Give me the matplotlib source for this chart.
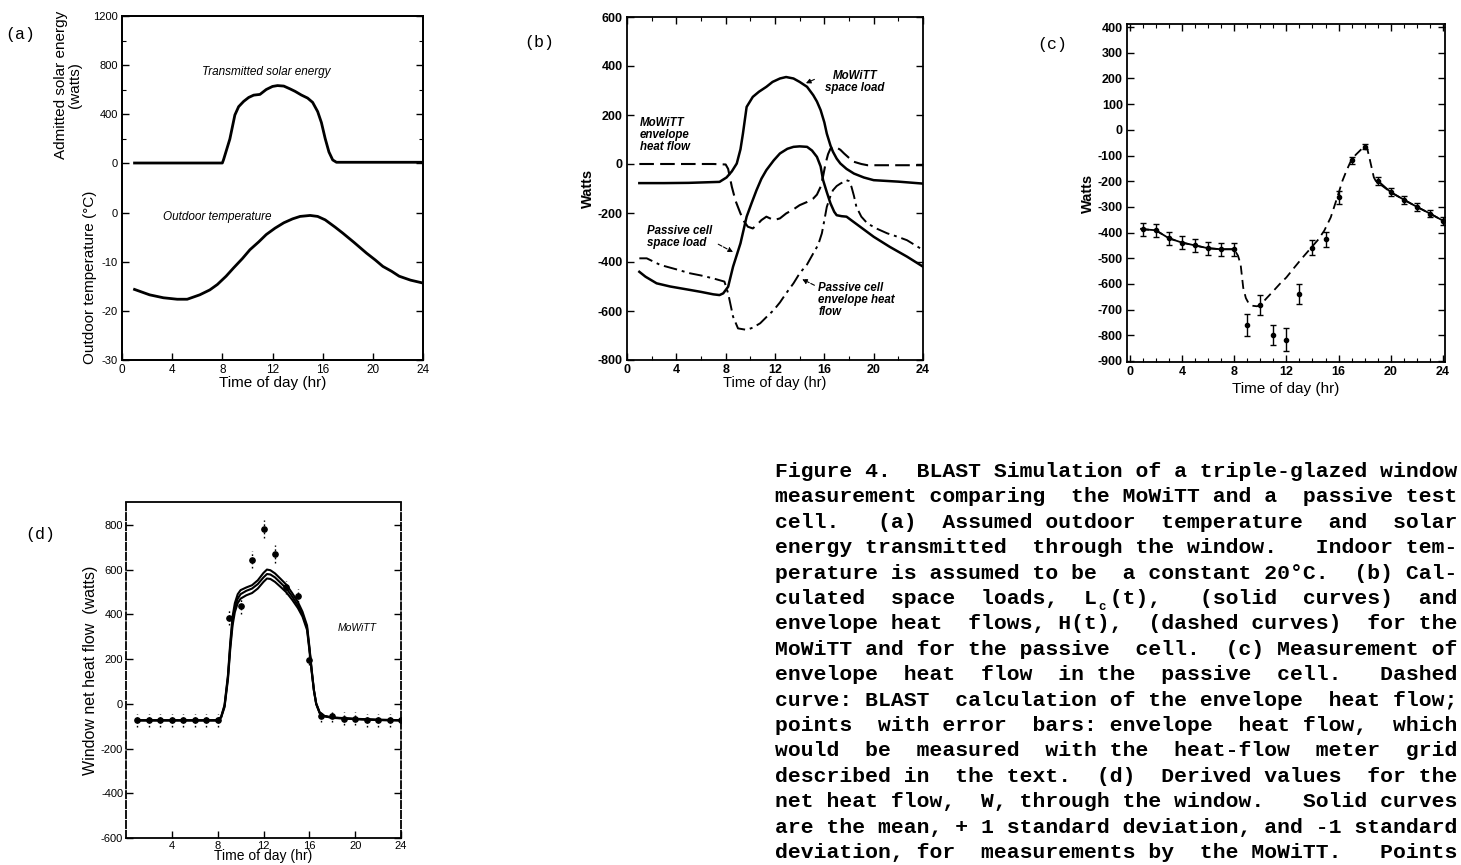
import re
import matplotlib
matplotlib.use("Agg")
import matplotlib.pyplot as plt
from matplotlib.ticker import FixedLocator, MultipleLocator

plt.rcParams['font.family'] = ['Liberation Sans', 'DejaVu Sans']
plt.rcParams['axes.unicode_minus'] = False

# ---------------- data ----------------
# (a) transmitted solar energy (W) and outdoor temperature (C)
solar_hr = [1, 8, 8.1, 8.6, 9.0, 9.3, 9.7, 10.1, 10.5, 11.0, 11.5, 12.0, 12.4, 12.9, 13.4, 13.8,
            14.3, 14.8, 15.2, 15.6, 15.9, 16.2, 16.5, 16.8, 17.1, 24]
solar_w = [0, 0, 28, 196, 392, 460, 503, 535, 554, 560, 600, 625, 632, 628, 605, 585,
           555, 530, 495, 420, 330, 200, 90, 25, 6, 6]
temp_hr = [1, 2.2, 3.3, 4.4, 5.2, 6.2, 7.0, 7.6, 8.3, 8.9, 9.6, 10.2, 10.9, 11.5, 12.2, 12.9,
           13.6, 14.2, 15.0, 15.6, 16.2, 17.0, 17.6, 18.5, 19.5, 20.2, 20.8, 21.5, 22.1, 23.0, 24]
temp_c = [-15.6, -16.7, -17.3, -17.6, -17.6, -16.7, -15.7, -14.6, -12.9, -11.2, -9.3, -7.5,
          -5.9, -4.4, -3.1, -2.0, -1.2, -0.7, -0.5, -0.7, -1.4, -2.9, -4.1, -6.0, -8.2, -9.6,
          -10.9, -11.9, -12.9, -13.7, -14.3]

# (b) space loads and envelope heat flows (W)
mow_space_hr = [1, 3, 5, 7.5, 8.07, 8.5, 8.9, 9.2, 9.4, 9.7, 10.2, 10.7, 11.3, 11.8, 12.4, 12.9,
                13.5, 14.0, 14.6, 15.1, 15.4, 15.7, 16.0, 16.2, 16.5, 16.7, 17.0, 17.3, 17.8,
                18.4, 19.2, 20.0, 22.0, 24]
mow_space_w = [-78, -78, -77, -73, -55, -30, 2, 60, 124, 233, 274, 295, 315, 335, 349, 355,
               349, 335, 315, 281, 255, 220, 170, 124, 75, 50, 22, 2, -20, -39, -55, -66, -72, -80]
mow_env_hr = [1, 5, 7, 8.0, 8.2, 8.5, 8.8, 9.2, 9.5, 9.8, 10.2, 10.6, 10.9, 11.3, 11.9, 12.4,
              12.9, 13.5, 14.0, 14.6, 15.1, 15.4, 15.7, 15.9, 16.1, 16.3, 16.5, 16.9, 17.3,
              17.6, 18.0, 18.4, 19.0, 19.5, 21, 24]
mow_env_w = [0, 0, 0, -2, -20, -93, -150, -202, -235, -256, -263, -245, -229, -215, -229, -222,
             -202, -185, -168, -155, -141, -125, -93, -50, 2, 40, 63, 70, 58, 43, 25, 9, 0, -5, -5, -5]
pas_space_hr = [1, 1.5, 2.4, 3.5, 5.1, 6.0, 7.0, 7.5, 7.8, 8.2, 8.6, 9.2, 9.7, 10.1, 10.5, 10.9,
                11.3, 11.9, 12.4, 13.0, 13.5, 14.0, 14.6, 15.0, 15.4, 15.7, 15.9, 16.2, 16.5,
                16.8, 17.0, 17.4, 17.8, 18.2, 18.9, 20.0, 21.3, 22.7, 24]
pas_space_w = [-440, -460, -487, -500, -514, -522, -532, -535, -528, -501, -419, -324, -215,
               -160, -107, -60, -25, 15, 43, 62, 70, 72, 70, 55, 29, -10, -66, -115, -161, -195,
               -209, -213, -215, -230, -256, -297, -338, -378, -419]
pas_env_hr = [1, 1.6, 2.7, 4.0, 5.1, 6.0, 7.0, 7.9, 8.2, 8.6, 9.0, 9.7, 10.2, 10.8, 11.3, 11.9,
              12.4, 12.9, 13.5, 14.0, 14.6, 15.1, 15.5, 15.8, 16.0, 16.2, 16.5, 16.7, 17.0, 17.3,
              17.6, 17.8, 18.0, 18.2, 18.4, 18.6, 19.0, 19.5, 20.3, 21.1, 22.0, 22.7, 24]
pas_env_w = [-385, -385, -412, -430, -446, -455, -467, -480, -528, -623, -671, -677, -668, -650,
             -625, -596, -565, -528, -487, -446, -410, -365, -330, -283, -230, -175, -130, -107,
             -90, -80, -72, -66, -70, -93, -130, -175, -215, -243, -265, -283, -298, -311, -351]

# (c) passive cell envelope heat flow: BLAST curve and hourly measurements
c_curve_hr = [0.8, 1, 2, 3, 4, 5, 6, 7, 8, 8.3, 8.5, 8.7, 8.9, 9.1, 9.4, 9.75, 10.0, 10.5, 11,
              11.5, 12, 12.6, 13.2, 13.9, 14.4, 14.9, 15.4, 15.9, 16.3, 16.6, 16.9, 17.3, 17.7,
              18.0, 18.2, 18.35, 18.5, 18.7, 18.9, 19, 20, 21, 22, 23, 24]
c_curve_w = [-385, -387, -391, -422, -439, -450, -461, -465, -465, -490, -524, -615, -655, -674,
             -685, -687, -683, -655, -628, -600, -575, -537, -500, -459, -430, -393, -341, -263,
             -198, -160, -126, -98, -78, -61, -75, -106, -140, -185, -204, -205, -243, -272,
             -300, -326, -354]
c_hr = [1, 2, 3, 4, 5, 6, 7, 8, 9, 10, 11, 12, 13, 14, 15, 16, 17, 18, 19, 20, 21, 22, 23, 24]
c_w = [-387, -391, -422, -439, -450, -461, -465, -465, -759, -683, -798, -818, -639, -459, -426,
       -263, -119, -65, -198, -243, -272, -300, -326, -354]
c_err = [25, 25, 25, 25, 25, 25, 25, 25, 42, 38, 40, 45, 40, 30, 30, 25, 15, 10, 15, 15, 15, 15, 15, 15]

# (d) window net heat flow: mean and +/-1 sd curves, points
d_curve_hr = [1, 8, 8.3, 8.6, 8.9, 9.1, 9.3, 9.5, 9.75, 10, 10.5, 11, 11.5, 12, 12.3, 12.6, 13,
              13.5, 14, 14.5, 15, 15.4, 15.8, 16.0, 16.2, 16.4, 16.6, 16.9, 17.3, 18, 19, 20, 21,
              22, 23, 24]
d_mean = [-74, -74, -60, -10, 120, 260, 370, 430, 470, 490, 505, 515, 535, 565, 580, 578, 565,
          540, 515, 480, 440, 400, 340, 250, 150, 60, 0, -40, -55, -62, -65, -68, -70, -72, -73, -74]
d_upper = [-74, -74, -58, -5, 130, 275, 390, 450, 490, 508, 520, 530, 552, 585, 600, 597, 583,
           558, 532, 495, 455, 412, 350, 258, 155, 62, 2, -38, -54, -61, -64, -67, -69, -71, -72, -74]
d_lower = [-74, -74, -62, -15, 110, 245, 350, 410, 450, 470, 485, 495, 515, 545, 560, 558, 545,
           522, 498, 465, 428, 390, 330, 242, 145, 58, -2, -42, -56, -63, -66, -69, -71, -73, -74, -74]
d_hr = [1, 2, 3, 4, 5, 6, 7, 8, 9, 10, 11, 12, 13, 14, 15, 16, 17, 18, 19, 20, 21, 22, 23, 24]
d_w = [-74, -74, -74, -74, -74, -74, -74, -74, 385, 437, 644, 782, 671, 520, 484, 197, -56, -56,
       -67, -67, -74, -74, -74, -74]
d_err = [30, 30, 30, 30, 30, 30, 30, 30, 35, 35, 37, 40, 40, 30, 30, 25, 25, 25, 30, 30, 30, 30, 30, 30]

hour_ticks = [0, 4, 8, 12, 16, 20, 24]

caption_lines = [
    "Figure 4.  BLAST Simulation of a triple-glazed window",
    "measurement comparing the MoWiTT and a passive test",
    "cell.  (a) Assumed outdoor temperature and solar",
    "energy transmitted through the window.  Indoor tem-",
    "perature is assumed to be a constant 20\u00b0C.  (b) Cal-",
    "culated space loads, L\u00a7(t), (solid curves) and",
    "envelope heat flows, H(t), (dashed curves) for the",
    "MoWiTT and for the passive cell.  (c) Measurement of",
    "envelope heat flow in the passive cell.  Dashed",
    "curve: BLAST calculation of the envelope heat flow;",
    "points with error bars: envelope heat flow, which",
    "would be measured with the heat-flow meter grid",
    "described in the text.  (d) Derived values for the",
    "net heat flow, W, through the window.  Solid curves",
    "are the mean, + 1 standard deviation, and -1 standard",
    "deviation, for measurements by the MoWiTT.  Points",
]

# ---------------- figure ----------------
W, H = 1461, 865
fig = plt.figure(figsize=(W / 100, H / 100), dpi=100)
fig.patch.set_facecolor('white')


def add_ax(l, t, r, b):
    return fig.add_axes([l / W, 1 - b / H, (r - l) / W, (b - t) / H])


def style(ax, lw=1.3):
    for s in ax.spines.values():
        s.set_linewidth(lw)
        s.set_color('black')
    ax.tick_params(which='both', direction='in', top=True, right=True, colors='black',
                   labelsize=8, pad=3)
    ax.tick_params(which='major', length=5, width=1.0)
    ax.tick_params(which='minor', length=3, width=0.8)


def bold_ticks(ax):
    for lab in ax.get_xticklabels() + ax.get_yticklabels():
        lab.set_fontweight('bold')


# ----- (a) -----
ax_t = add_ax(122, 16, 423, 360)
ax_t.set_xlim(0, 24)
ax_t.set_ylim(-30, 40.2)
ax_s = ax_t.twinx()
ax_s.set_ylim(-1608, 1200)
style(ax_t)
style(ax_s)
ax_t.xaxis.set_major_locator(FixedLocator(hour_ticks))
ax_t.yaxis.set_major_locator(FixedLocator([0, -10, -20, -30]))
ax_s.yaxis.set_major_locator(FixedLocator([0, 400, 800, 1200]))
ax_s.yaxis.set_minor_locator(FixedLocator([200, 600, 1000]))
ax_t.tick_params(axis='y', left=True, right=True, labelleft=True, labelright=False)
ax_s.tick_params(axis='y', which='both', left=True, right=True, labelleft=True, labelright=False)
ax_t.tick_params(axis='x', top=False, labelsize=8.5)
ax_t.plot(temp_hr, temp_c, color='black', lw=2.0)
ax_s.plot(solar_hr, solar_w, color='black', lw=2.0)
ax_s.text(11.5, 743, 'Transmitted solar energy', style='italic', fontsize=8.5, ha='center', va='center')
ax_t.text(7.6, -0.8, 'Outdoor temperature', style='italic', fontsize=8.5, ha='center', va='center')
ax_t.set_xlabel('Time of day (hr)', fontsize=11, labelpad=0)
ax_t.text(-0.18, 0.80, 'Admitted solar energy\n(watts)', transform=ax_t.transAxes, rotation=90,
          ha='center', va='center', fontsize=11, linespacing=1.0)
ax_t.text(-0.105, 0.24, 'Outdoor temperature (\u00b0C)', transform=ax_t.transAxes, rotation=90,
          ha='center', va='center', fontsize=11)

# ----- (b) -----
axb = add_ax(627, 17, 923, 360)
style(axb)
axb.set_xlim(0, 24)
axb.set_ylim(-800, 600)
axb.xaxis.set_major_locator(FixedLocator(hour_ticks))
axb.xaxis.set_minor_locator(MultipleLocator(2))
axb.yaxis.set_major_locator(MultipleLocator(200))
axb.tick_params(labelsize=9)
bold_ticks(axb)
axb.plot(mow_space_hr, mow_space_w, color='black', lw=1.8)
axb.plot(mow_env_hr, mow_env_w, color='black', lw=1.5, linestyle=(0, (7, 3)))
axb.plot(pas_space_hr, pas_space_w, color='black', lw=1.8)
axb.plot(pas_env_hr, pas_env_w, color='black', lw=1.4, linestyle=(0, (7, 2.5, 1.5, 2.5)))
axb.set_xlabel('Time of day (hr)', fontsize=10.5, labelpad=0)
axb.set_ylabel('Watts', fontsize=10.5, fontweight='bold', labelpad=2)
ann = dict(fontsize=8.3, style='italic', fontweight='bold', linespacing=1.0)
axb.text(18.5, 335, 'MoWiTT\nspace load', ha='center', va='center', **ann)
axb.annotate('', xy=(14.3, 325), xytext=(15.4, 350),
             arrowprops=dict(arrowstyle='-|>', color='black', lw=0.8, mutation_scale=7))
axb.text(1.05, 192, 'MoWiTT\nenvelope\nheat flow', ha='left', va='top', **ann)
axb.text(1.6, -298, 'Passive cell\nspace load', ha='left', va='center', **ann)
axb.annotate('', xy=(8.8, -365), xytext=(7.2, -322),
             arrowprops=dict(arrowstyle='-|>', color='black', lw=0.8, linestyle='--',
                             mutation_scale=7))
axb.text(15.5, -555, 'Passive cell\nenvelope heat\nflow', ha='left', va='center', **ann)
axb.annotate('', xy=(14.0, -465), xytext=(15.4, -500),
             arrowprops=dict(arrowstyle='-|>', color='black', lw=0.8, linestyle='--',
                             mutation_scale=7))

# ----- (c) -----
axc = add_ax(1127, 24, 1445, 362)
style(axc)
axc.set_xlim(-0.2, 24.15)
axc.set_ylim(-904, 412)
axc.xaxis.set_major_locator(FixedLocator(hour_ticks))
axc.xaxis.set_minor_locator(MultipleLocator(1))
axc.yaxis.set_major_locator(MultipleLocator(100))
axc.tick_params(labelsize=9)
bold_ticks(axc)
axc.plot(c_curve_hr, c_curve_w, color='black', lw=1.3, linestyle=(0, (5, 3)))
axc.plot(c_hr[:8], c_w[:8], color='black', lw=1.3)
axc.plot(c_hr[18:], c_w[18:], color='black', lw=1.3)
axc.errorbar(c_hr, c_w, yerr=c_err, fmt='o', color='black', ms=3, elinewidth=1.0,
             capsize=2.5, capthick=1.0)
axc.set_xlabel('Time of day (hr)', fontsize=11, labelpad=3)
axc.set_ylabel('Watts', fontsize=10.5, fontweight='bold', labelpad=2)

# ----- (d) -----
axd = add_ax(126, 502, 401, 838)
style(axd)
axd.spines['left'].set_linestyle((0, (4, 1.5)))
axd.spines['right'].set_linestyle((0, (4, 1.5)))
axd.set_xlim(0, 24)
axd.set_ylim(-600, 902)
axd.xaxis.set_major_locator(FixedLocator([4, 8, 12, 16, 20, 24]))
axd.yaxis.set_major_locator(MultipleLocator(200))
axd.tick_params(labelsize=8, pad=2)
axd.tick_params(axis='x', top=False)
for yy in (d_upper, d_mean, d_lower):
    axd.plot(d_curve_hr, yy, color='black', lw=1.5)
eb = axd.errorbar(d_hr, d_w, yerr=d_err, fmt='o', color='black', ms=3.8, elinewidth=1.0,
                  capsize=0)
for coll in eb[2]:
    coll.set_linestyle((0, (1.2, 1.8)))
axd.text(20.2, 338, 'MoWiTT', style='italic', fontsize=7.5, ha='center', va='center')
axd.set_xlabel('Time of day (hr)', fontsize=10, labelpad=-1)
axd.set_ylabel('Window net heat flow  (watts)', fontsize=11.5, labelpad=2)

# panel letters
mono = dict(family=['Liberation Mono', 'DejaVu Sans Mono'], fontsize=12)
fig.text(20 / W, 1 - 35 / H, '(a)', ha='center', va='center', **mono)
fig.text(539 / W, 1 - 42 / H, '(b)', ha='center', va='center', **mono)
fig.text(1052 / W, 1 - 44 / H, '(c)', ha='center', va='center', **mono)
fig.text(40 / W, 1 - 534 / H, '(d)', ha='center', va='center', **mono)


# ---------------- caption ----------------
def justify(line, width=53):
    toks = re.findall(r'\S+|\s+', line)
    gaps = [i for i, t in enumerate(toks) if t.isspace()]
    extra = width - len(line)
    ng = len(gaps)
    add = [0] * ng
    for k in range(max(extra, 0)):
        add[int((k + 0.5) * ng / extra) % ng] += 1
    for j, i in enumerate(gaps):
        toks[i] += ' ' * add[j]
    return ''.join(toks)


cap_fs = 15.38
cw = 0.6 * cap_fs * 100 / 72.0
x0 = 775
for i, raw in enumerate(caption_lines):
    s = justify(raw)
    base = 477 + 25.4 * i
    if '\u00a7' in s:
        idx = s.index('\u00a7')
        s = s.replace('\u00a7', ' ')
        fig.text((x0 + idx * cw + 0.2 * cw) / W, 1 - (base + 6) / H, 'c',
                 family=['Liberation Mono', 'DejaVu Sans Mono'], fontsize=9,
                 fontweight='bold', va='baseline', ha='left')
    fig.text(x0 / W, 1 - base / H, s, family=['Liberation Mono', 'DejaVu Sans Mono'],
             fontsize=cap_fs, fontweight='bold', va='baseline', ha='left')

fig.savefig('out.png', dpi=100, facecolor='white')
